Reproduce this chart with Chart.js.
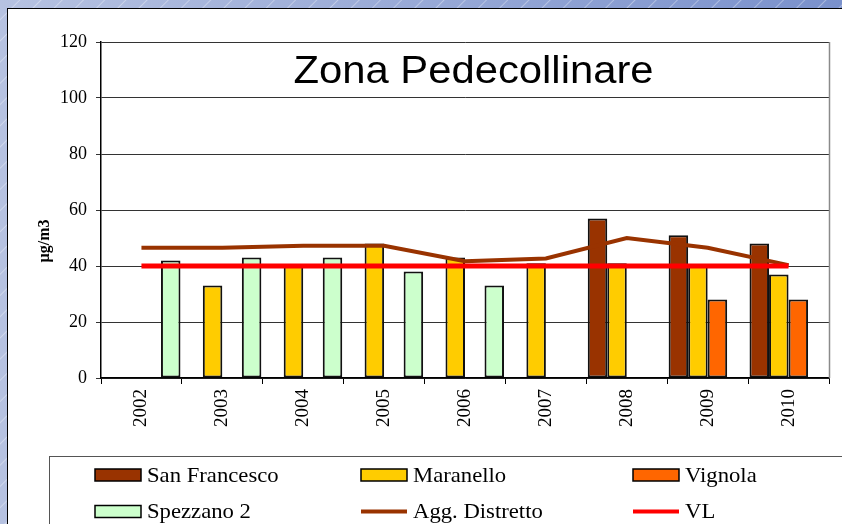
<!DOCTYPE html>
<html>
<head>
<meta charset="utf-8">
<script src="https://cdn.jsdelivr.net/npm/chart.js@4/dist/chart.umd.min.js"></script>
<style>
html,body{margin:0;padding:0;width:842px;height:524px;overflow:hidden;}
body{
  background:
    repeating-linear-gradient(135deg, rgba(255,255,255,0) 0px, rgba(255,255,255,0) 13px, rgba(255,255,255,0.35) 14px, rgba(255,255,255,0) 15px),
    linear-gradient(90deg, #b6c2e1, #7a91cc);
}
#frame{position:absolute;left:7px;top:8px;width:860px;height:540px;background:#fff;border:1.5px solid #000;}
#c{position:absolute;left:0;top:0;}
</style>
</head>
<body>
<div id="frame"></div>
<canvas id="c" width="842" height="524"></canvas>
<script>
// ---- data ----
const categories   = ['2002','2003','2004','2005','2006','2007','2008','2009','2010'];
const sanFrancesco = [null, null, null, null, null, null, 57, 51, 48];
const maranello    = [null, 33, 40, 48, 43, 41, 41, 40, 37];
const vignola      = [null, null, null, null, null, null, null, 28, 28];
const spezzano2    = [42, 43, 43, 38, 33, null, null, null, null];
const aggDistretto = [46.5, 46.5, 47.2, 47.2, 41.7, 42.7, 50, 46.5, 40.3];
const vl           = [40, 40, 40, 40, 40, 40, 40, 40, 40];
const yTicks       = [0, 20, 40, 60, 80, 100, 120];
const titleText    = 'Zona Pedecollinare';
const yTitleText   = 'µg/m3';

const SERIF = '"Liberation Serif", "Times New Roman", serif';
const SANS  = '"Liberation Sans", Arial, sans-serif';

const decor = {
  id: 'decor',
  afterDraw(chart) {
    const {ctx, chartArea: a} = chart;
    ctx.save();
    // right border of plot area
    ctx.strokeStyle = '#8a8a8a';
    ctx.lineWidth = 1.5;
    ctx.beginPath();
    ctx.moveTo(a.right + 0.5, a.top);
    ctx.lineTo(a.right + 0.5, a.bottom);
    ctx.stroke();

    // title inside plot
    ctx.fillStyle = '#000';
    ctx.font = '38px ' + SANS;
    ctx.textAlign = 'center';
    ctx.textBaseline = 'alphabetic';
    ctx.save();
    ctx.translate(473.5, 83);
    ctx.scale(1.1, 1);
    ctx.fillText(titleText, 0, 0);
    ctx.restore();

    // y axis title
    ctx.save();
    ctx.translate(45, 241);
    ctx.rotate(-Math.PI / 2);
    ctx.font = 'bold 16px ' + SERIF;
    ctx.textAlign = 'center';
    ctx.textBaseline = 'middle';
    ctx.fillText(yTitleText, 0, 0);
    ctx.restore();

    // legend frame
    ctx.strokeStyle = '#555';
    ctx.lineWidth = 1;
    ctx.strokeRect(49.5, 456.5, 900, 200);

    // legend entries (3 columns x 2 rows)
    const cols = [95, 361, 633];
    const rows = [475, 511.5];
    chart.data.datasets.forEach((ds, i) => {
      const x = cols[i % 3];
      const y = rows[Math.floor(i / 3)];
      if (ds.type === 'line') {
        ctx.strokeStyle = ds.borderColor;
        ctx.lineWidth = 4;
        ctx.beginPath();
        ctx.moveTo(x, y);
        ctx.lineTo(x + 46, y);
        ctx.stroke();
      } else {
        ctx.fillStyle = ds.backgroundColor;
        ctx.fillRect(x, y - 6, 46, 12);
        ctx.strokeStyle = '#000';
        ctx.lineWidth = 1.5;
        ctx.strokeRect(x, y - 6, 46, 12);
      }
      ctx.fillStyle = '#000';
      ctx.font = '21px ' + SERIF;
      ctx.textAlign = 'left';
      ctx.textBaseline = 'middle';
      ctx.save();
      ctx.translate(x + 52, y + 1);
      ctx.scale(1.08, 1);
      ctx.fillText(ds.label, 0, 0);
      ctx.restore();
    });
    ctx.restore();
  }
};

const barCommon = {
  type: 'bar',
  borderColor: '#111',
  borderWidth: 2,
  borderSkipped: false,
  categoryPercentage: 0.965,
  barPercentage: 1.0,
  order: 3
};

new Chart(document.getElementById('c'), {
  data: {
    labels: categories,
    datasets: [
      Object.assign({}, barCommon, {label: 'San Francesco', data: sanFrancesco, backgroundColor: '#993300'}),
      Object.assign({}, barCommon, {label: 'Maranello', data: maranello, backgroundColor: '#FFCC00'}),
      Object.assign({}, barCommon, {label: 'Vignola', data: vignola, backgroundColor: '#FF6600'}),
      Object.assign({}, barCommon, {label: 'Spezzano 2', data: spezzano2, backgroundColor: '#CCFFCC'}),
      {type: 'line', label: 'Agg. Distretto', data: aggDistretto, borderColor: '#993300', backgroundColor: '#993300',
       borderWidth: 4, pointRadius: 0, tension: 0, fill: false, order: 1},
      {type: 'line', label: 'VL', data: vl, borderColor: '#FF0000', backgroundColor: '#FF0000',
       borderWidth: 5, pointRadius: 0, tension: 0, fill: false, order: 0}
    ]
  },
  options: {
    responsive: false,
    animation: false,
    layout: {padding: {left: 0, top: 42, right: 13, bottom: 0}},
    plugins: {legend: {display: false}, tooltip: {enabled: false}, title: {display: false}},
    scales: {
      x: {
        type: 'category',
        offset: true,
        grid: {offset: true, drawOnChartArea: false, drawTicks: true, tickLength: 6, color: '#000', lineWidth: 1},
        border: {display: true, color: '#000', width: 1.5},
        ticks: {minRotation: 90, maxRotation: 90, padding: 5, color: '#000', font: {family: SERIF, size: 19}},
        afterFit(axis) { axis.height = 146; }
      },
      y: {
        min: 0, max: 120,
        afterBuildTicks(axis) { axis.ticks = yTicks.map(v => ({value: v})); },
        grid: {color: '#333', lineWidth: 1, drawTicks: true, tickLength: 5},
        border: {display: true, color: '#000', width: 1.5},
        ticks: {padding: 9, color: '#000', font: {family: SERIF, size: 18}},
        title: {display: false},
        afterFit(axis) { axis.width = 101; }
      }
    }
  },
  plugins: [decor]
});
</script>
</body>
</html>
